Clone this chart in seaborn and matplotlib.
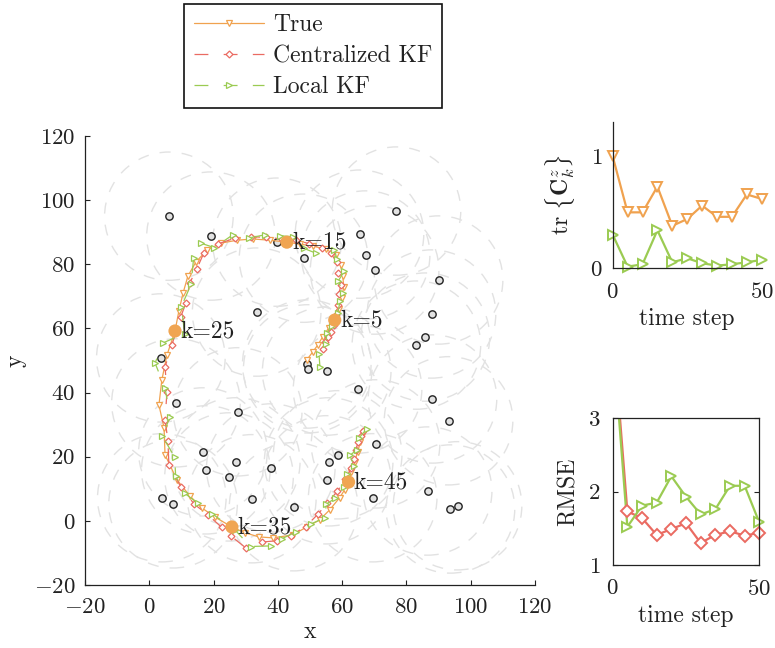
import numpy as np
import pandas as pd
import matplotlib
matplotlib.use("Agg")
import matplotlib.pyplot as plt
from matplotlib.patches import Circle
import seaborn as sns

# ---------------- data ----------------
true_x = [49.0, 50.8, 52.4, 53.9, 55.8, 57.7, 58.9, 59.8, 60.5, 60.2, 59.5, 58.0, 54.9, 50.8, 46.8,
          42.8, 37.5, 32.2, 27.3, 22.3, 17.9, 14.5, 12.0, 10.5, 9.2, 8.0, 5.5, 3.9, 3.0, 4.6,
          4.9, 8.6, 12.6, 16.4, 20.4, 25.7, 29.7, 34.1, 38.4, 44.6, 49.0, 53.0, 56.1, 59.2, 60.8,
          62.0, 62.9, 63.9, 64.8, 65.7, 66.7]
true_y = [50.2, 52.6, 54.8, 57.3, 60.1, 62.6, 66.0, 69.5, 72.9, 76.3, 79.8, 82.9, 84.7, 85.7, 86.3,
          86.9, 87.5, 87.9, 87.5, 86.6, 84.4, 80.7, 76.3, 71.0, 65.4, 59.2, 51.7, 43.9, 36.1, 29.0,
          20.6, 12.8, 7.8, 4.0, 1.2, -1.9, -3.7, -5.0, -5.3, -4.4, -1.9, 0.3, 3.4, 7.2, 9.7,
          12.1, 15.3, 18.4, 21.5, 24.6, 27.7]
central_x = [54.0, 54.6, 55.6, 56.5, 57.4, 58.0, 58.6, 59.0, 59.6, 58.8, 58.3, 56.4, 53.6, 49.8, 45.5,
             41.3, 36.4, 31.5, 26.8, 21.5, 17.0, 14.8, 12.6, 11.4, 9.8, 7.0, 4.9, 5.5, 4.9, 5.8,
             6.1, 9.8, 14.0, 18.2, 22.5, 25.5, 30.0, 35.0, 39.8, 44.0, 48.6, 52.6, 55.4, 58.5, 61.0,
             62.8, 63.6, 64.2, 65.0, 65.8, 66.5]
central_y = [53.5, 55.8, 57.2, 59.0, 61.0, 64.2, 67.3, 70.8, 73.5, 77.4, 80.6, 83.6, 85.2, 86.4, 87.6,
             87.9, 88.4, 88.6, 88.2, 86.4, 83.6, 78.6, 74.2, 68.0, 63.6, 54.8, 48.0, 40.2, 31.5, 25.0,
             17.5, 10.6, 5.2, 1.9, -2.0, -4.8, -8.4, -6.6, -6.2, -4.6, -1.8, 2.2, 5.6, 9.2, 13.0,
             16.4, 19.2, 22.0, 24.6, 26.6, 28.0]
local_x = [53.1, 52.8, 55.0, 55.2, 56.8, 58.6, 59.4, 60.2, 58.8, 60.6, 58.4, 57.6, 52.0, 48.0, 44.6,
           40.6, 36.0, 31.0, 26.0, 20.2, 16.0, 13.8, 13.0, 10.0, 11.0, 4.3, 1.8, 4.9, 6.5, 4.0,
           7.9, 8.2, 11.0, 15.0, 19.6, 26.8, 31.5, 38.0, 41.2, 45.5, 50.2, 54.8, 55.0, 57.8, 60.6,
           61.6, 63.8, 62.4, 64.6, 65.2, 67.6]
local_y = [47.9, 52.0, 55.3, 58.6, 60.8, 64.8, 68.6, 71.0, 74.8, 77.8, 81.5, 84.6, 83.4, 85.0, 88.6,
           88.9, 89.2, 88.2, 89.2, 85.2, 86.6, 82.0, 73.8, 66.8, 58.4, 55.5, 49.2, 41.4, 32.4, 26.5,
           19.9, 14.0, 8.6, 5.6, 2.2, -3.0, -8.0, -7.8, -5.6, -3.5, -1.0, 1.0, 5.2, 7.0, 10.5,
           14.6, 17.0, 20.4, 22.2, 25.8, 28.6]

sensor_x = [6.1, 19.2, 39.7, 48.0, 65.4, 76.9, 67.3, 70.1, 33.4, 3.6, 49.0, 49.3, 55.2, 64.8,
            90.0, 87.8, 85.9, 83.1, 88.1, 93.1, 86.6, 93.7, 95.9, 8.3, 27.5, 16.7, 26.9, 17.6,
            37.8, 24.8, 58.6, 55.8, 70.4, 55.2, 3.9, 7.4, 31.9, 44.9, 69.5]
sensor_y = [95.0, 88.8, 86.9, 81.9, 89.4, 96.6, 82.9, 78.2, 65.1, 50.8, 48.9, 47.4, 46.7, 41.1,
            75.1, 64.5, 57.3, 54.8, 38.0, 31.2, 9.3, 3.7, 4.7, 36.8, 34.0, 21.5, 18.4, 15.9,
            16.5, 13.7, 20.6, 18.4, 24.0, 12.8, 7.2, 5.3, 6.9, 4.4, 7.2]
sensing_radius = 20

k_marks = [5, 15, 25, 35, 45]
series_labels = ["True", "Centralized KF", "Local KF"]

time_steps = [0, 5, 10, 15, 20, 25, 30, 35, 40, 45, 50]
trc_orange = [1.0, 0.50, 0.50, 0.73, 0.38, 0.44, 0.56, 0.46, 0.46, 0.66, 0.62]
trc_green = [0.30, 0.015, 0.036, 0.34, 0.054, 0.09, 0.045, 0.024, 0.036, 0.054, 0.075]
rmse_central = [4.26, 1.73, 1.64, 1.41, 1.49, 1.57, 1.30, 1.41, 1.46, 1.40, 1.44]
rmse_local = [4.12, 1.52, 1.81, 1.85, 2.21, 1.93, 1.69, 1.76, 2.08, 2.08, 1.58]

# ---------------- style ----------------
C_TRUE = "#F0A24F"
C_CENT = "#EA6B62"
C_LOC = "#9BCB52"
C_GRID = "#e2e2e2"

sns.set_theme(style="ticks")
plt.rcParams.update({
    "font.family": ["cmr10", "DejaVu Serif"],
    "mathtext.fontset": "cm",
    "axes.formatter.use_mathtext": True,
    "axes.unicode_minus": True,
    "lines.scale_dashes": False,
    "axes.edgecolor": "#222222",
    "axes.linewidth": 0.9,
    "xtick.direction": "in",
    "ytick.direction": "in",
    "xtick.major.size": 3.5,
    "ytick.major.size": 3.5,
    "xtick.major.width": 0.8,
    "ytick.major.width": 0.8,
    "xtick.major.pad": 9,
    "ytick.major.pad": 7,
    "xtick.color": "#222222",
    "ytick.color": "#222222",
    "xtick.labelsize": 16.5,
    "ytick.labelsize": 16.5,
    "axes.labelsize": 17,
    "text.color": "#222222",
    "axes.labelcolor": "#222222",
})

fig = plt.figure(figsize=(7.75, 6.48), dpi=100)
ax = fig.add_axes([85 / 775, 1 - 585 / 648, 450 / 775, 449 / 648])
ax_tr = fig.add_axes([612.7 / 775, 1 - 268.3 / 648, 149 / 775, 146.6 / 648])
ax_rm = fig.add_axes([612.7 / 775, 1 - 565 / 648, 146.6 / 775, 146.7 / 648])

# ---------------- main panel ----------------
for sx, sy in zip(sensor_x, sensor_y):
    ax.add_patch(Circle((sx, sy), sensing_radius, fill=False, ec=C_GRID, lw=1.0,
                        ls=(0, (8, 8)), zorder=1))

sns.scatterplot(x=sensor_x, y=sensor_y, ax=ax, s=28, color="#e2e2e2", edgecolor="#222222",
                linewidth=1.0, zorder=3, legend=False)

traj = pd.DataFrame({"k": np.arange(len(true_x)), "tx": true_x, "ty": true_y,
                     "cx": central_x, "cy": central_y, "lx": local_x, "ly": local_y})

handles = []
sns.lineplot(data=traj, x="tx", y="ty", sort=False, estimator=None, ax=ax, color=C_TRUE, lw=0.9,
             marker="v", markersize=4.5, markerfacecolor="white", markeredgecolor=C_TRUE,
             markeredgewidth=0.9, legend=False, zorder=4)
handles.append(ax.lines[-1])
sns.lineplot(data=traj, x="cx", y="cy", sort=False, estimator=None, ax=ax, color=C_CENT, lw=0.9,
             linestyle=(0, (10, 11)), marker="D", markersize=3.5, markerfacecolor="white",
             markeredgecolor=C_CENT, markeredgewidth=0.9, legend=False, zorder=5)
handles.append(ax.lines[-1])
sns.lineplot(data=traj, x="lx", y="ly", sort=False, estimator=None, ax=ax, color=C_LOC, lw=0.9,
             linestyle=(0, (10, 11)), marker=">", markersize=4.5, markerfacecolor="white",
             markeredgecolor=C_LOC, markeredgewidth=0.9, legend=False, zorder=6)
handles.append(ax.lines[-1])

kx = [true_x[k] for k in k_marks]
ky = [true_y[k] for k in k_marks]
sns.scatterplot(x=kx, y=ky, ax=ax, s=90, color="#F0A552", edgecolor="none", zorder=8, legend=False)
for k, x0, y0 in zip(k_marks, kx, ky):
    ax.text(x0 + 1.6, y0, f"k={k}", fontsize=17, va="center", ha="left", zorder=9)

ax.set_xlim(-20, 120)
ax.set_ylim(-20, 120)
ax.set_xticks(range(-20, 121, 20))
ax.set_yticks(range(-20, 121, 20))
ax.set_xlabel("x", labelpad=3)
ax.set_ylabel("y", labelpad=5)
sns.despine(ax=ax)

# ---------------- trace panel ----------------
sns.lineplot(x=time_steps, y=trc_orange, ax=ax_tr, color=C_TRUE, lw=1.6, marker="v", markersize=7.5,
             markerfacecolor="white", markeredgecolor=C_TRUE, markeredgewidth=1.4, clip_on=False,
             legend=False, estimator=None)
sns.lineplot(x=time_steps, y=trc_green, ax=ax_tr, color=C_LOC, lw=1.6, marker=">", markersize=7.5,
             markerfacecolor="white", markeredgecolor=C_LOC, markeredgewidth=1.4, clip_on=False,
             legend=False, estimator=None)
ax_tr.set_xlim(0, 50)
ax_tr.set_ylim(0, 1.31)
ax_tr.set_xticks([0, 50])
ax_tr.set_yticks([0, 1])
ax_tr.tick_params(length=0)
ax_tr.tick_params(axis="x", pad=10)
ax_tr.set_xlabel("time step", labelpad=4)
ax_tr.set_ylabel(r"$\mathrm{tr}\ \{\mathbf{C}_k^z\}$", labelpad=10)
sns.despine(ax=ax_tr)

# ---------------- RMSE panel ----------------
sns.lineplot(x=time_steps, y=rmse_central, ax=ax_rm, color=C_CENT, lw=1.6, legend=False, estimator=None)
sns.lineplot(x=time_steps, y=rmse_local, ax=ax_rm, color=C_LOC, lw=1.6, legend=False, estimator=None)
sns.lineplot(x=time_steps[1:], y=rmse_central[1:], ax=ax_rm, color=C_CENT, lw=0, marker="D",
             markersize=6.5, markerfacecolor="white", markeredgecolor=C_CENT, markeredgewidth=1.4,
             clip_on=False, legend=False, estimator=None)
sns.lineplot(x=time_steps[1:], y=rmse_local[1:], ax=ax_rm, color=C_LOC, lw=0, marker=">",
             markersize=7.5, markerfacecolor="white", markeredgecolor=C_LOC, markeredgewidth=1.4,
             clip_on=False, legend=False, estimator=None)
ax_rm.set_xlim(0, 50)
ax_rm.set_ylim(1, 3)
ax_rm.set_xticks([0, 50])
ax_rm.set_yticks([1, 2, 3])
ax_rm.tick_params(axis="y", length=3.5, right=True, pad=9)
ax_rm.tick_params(axis="x", length=0, pad=10)
ax_rm.set_xlabel("time step", labelpad=4)
ax_rm.set_ylabel("RMSE", labelpad=6)
for s in ax_rm.spines.values():
    s.set_visible(True)

# ---------------- legend ----------------
leg = fig.legend(handles, series_labels, loc="upper left", bbox_to_anchor=(184 / 775, 1 - 4 / 648),
                 bbox_transform=fig.transFigure, frameon=True, fancybox=False, edgecolor="#111111",
                 framealpha=1, fontsize=17, handlelength=2.95, handletextpad=0.4, labelspacing=0.38,
                 borderpad=0.42, borderaxespad=0, numpoints=1)
leg.get_frame().set_linewidth(1.2)

fig.savefig("out.png", dpi=100)
